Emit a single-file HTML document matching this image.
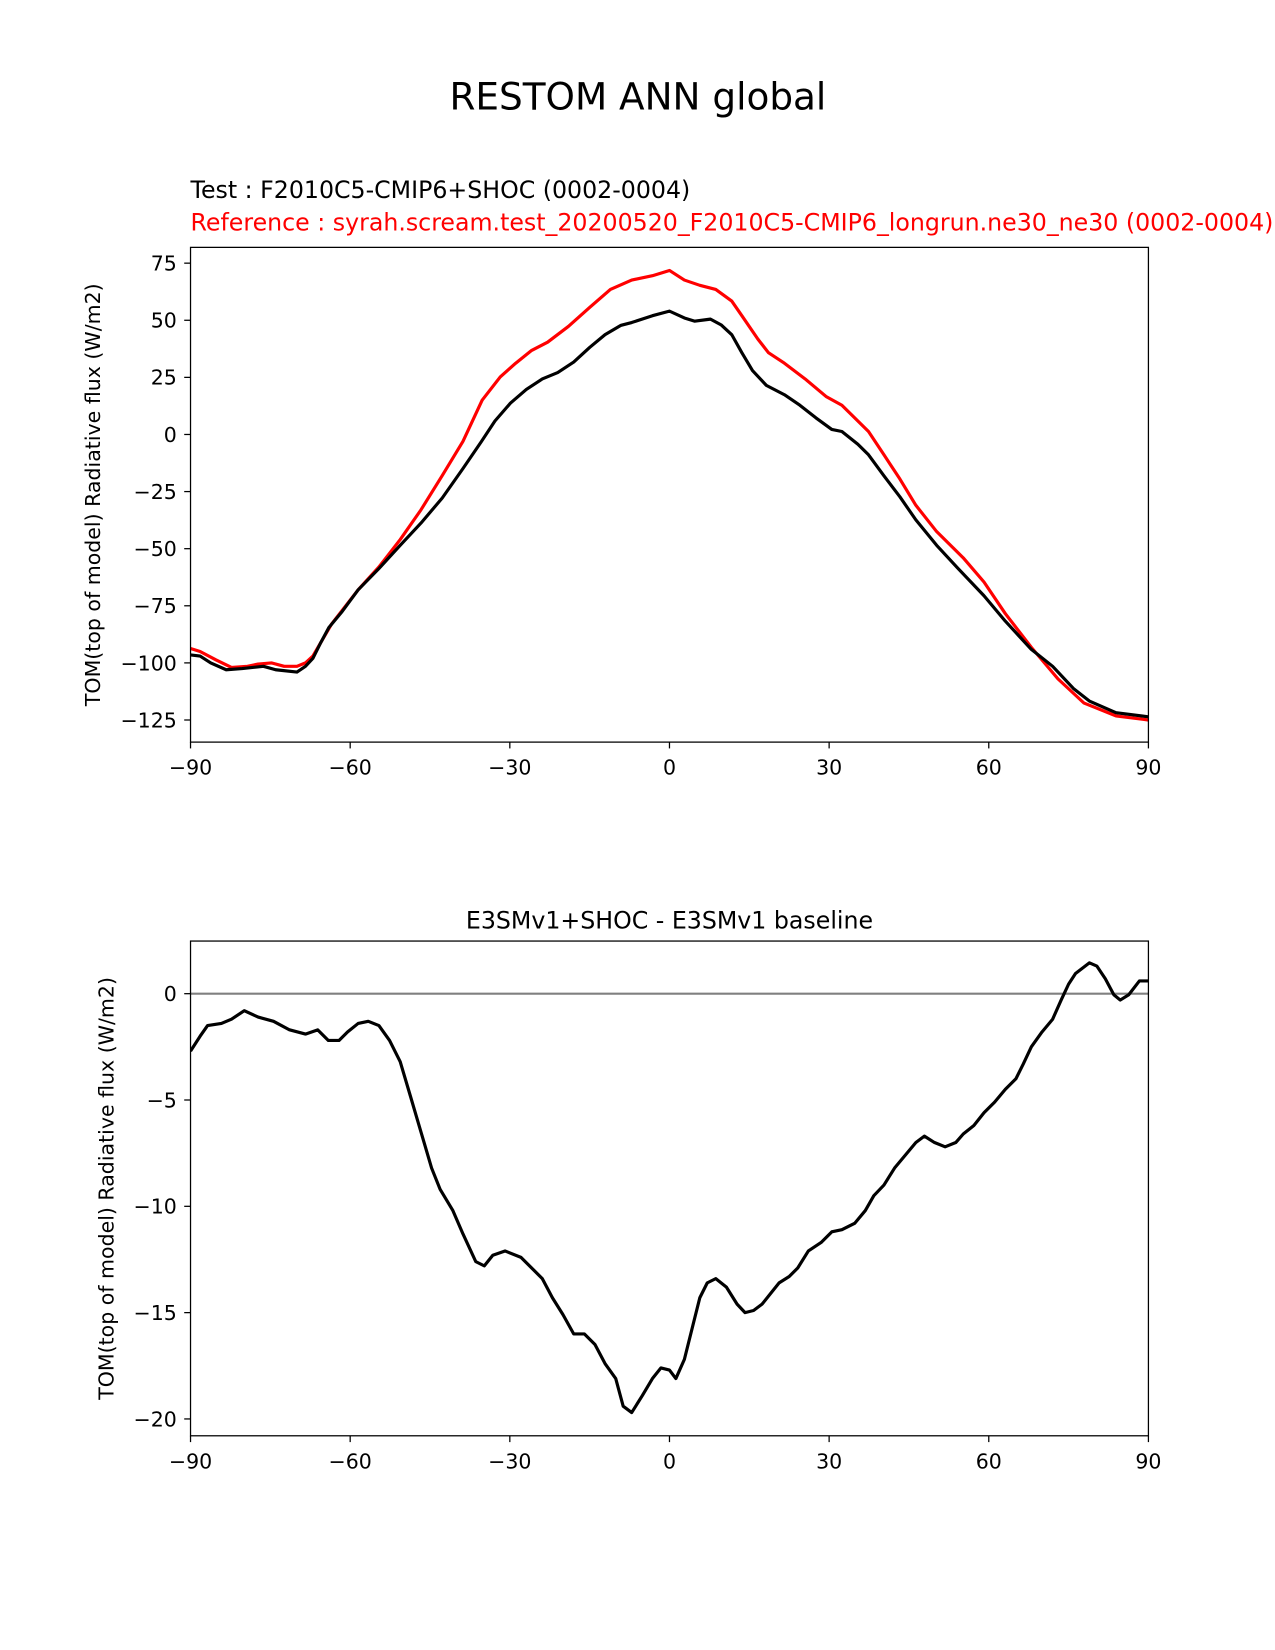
<!DOCTYPE html>
<html><head><meta charset="utf-8"><style>
html,body{margin:0;padding:0;background:#fff;}
svg{display:block;font-family:"DejaVu Sans","Liberation Sans",sans-serif;}
</style></head><body>
<svg id="fig" width="1275" height="1650" viewBox="0 0 1211.25 1567.5" xmlns="http://www.w3.org/2000/svg">
<rect width="1211.25" height="1567.5" fill="#fff"/>
<text x="606" y="104" font-size="35.5" text-anchor="middle">RESTOM ANN global</text>
<text x="181" y="188" font-size="22.5">Test : F2010C5-CMIP6+SHOC (0002-0004)</text>
<text x="181" y="219" font-size="22.5" fill="#ff0000">Reference : syrah.scream.test_20200520_F2010C5-CMIP6_longrun.ne30_ne30 (0002-0004)</text>
<text x="636" y="882" font-size="22.5" text-anchor="middle">E3SMv1+SHOC - E3SMv1 baseline</text>
<g id="top"></g>
<g id="bot"></g>
</svg>
<script>
const topLatBlack=[-90,-88.2,-86.2,-83.3,-80.3,-76.3,-74,-70,-68.4,-67,-65.5,-64,-61.5,-58.5,-54.6,-50.6,-46.7,-42.7,-38.8,-35.4,-32.8,-29.9,-26.9,-23.9,-21,-18,-15,-12.1,-9.1,-7.1,-3.2,0,2.8,4.7,7.7,9.7,11.7,13.6,15.6,18.2,21.6,24.5,27.5,30.5,32.4,35.4,37.4,40.3,43.3,46.3,50.2,54.2,59.1,63.1,68,72,75.9,78.9,83.9,90];
const topValBlack=[-96.5,-97,-100,-103,-102.5,-101.5,-103,-104,-101.5,-98,-91,-84.5,-77.5,-68,-58.7,-48.5,-38.8,-27.8,-14.9,-3.3,5.9,13.7,19.7,24.3,27.1,31.7,38.1,43.7,47.8,49,52,54,51,49.6,50.5,48,43.7,35.8,28,21.5,17.4,12.8,7.3,2.2,1.3,-4.3,-8.9,-18.1,-27.3,-37.4,-48.5,-58.6,-70.6,-81.7,-94.1,-101.5,-111.2,-116.7,-121.8,-123.6];
const topLatRed=[-90,-88.2,-85.2,-82.3,-79.3,-77.3,-74.8,-72.4,-70,-68.4,-67,-65.5,-63.5,-58.5,-54.6,-50.6,-46.7,-42.7,-38.8,-35.2,-31.8,-28.9,-25.9,-22.9,-19,-15,-11.1,-7.1,-3.2,0,2.8,5.7,8.7,11.7,13.6,16.6,18.6,21.6,25.5,29.5,32.4,35.4,37.4,40.3,43.3,46.3,50.2,55.2,59.1,63.1,68,73,77.9,83.9,90];
const topValRed=[-93.7,-95,-98.7,-102,-101.5,-100.5,-100,-101.5,-101.5,-100,-97,-91,-83,-68,-58,-46,-33,-18,-3,15,25.2,31.2,36.8,40.4,47.3,55.6,63.5,67.6,69.5,71.8,67.6,65.3,63.5,58.4,52,41.8,35.8,31.2,24.3,16.5,12.8,5.9,1.3,-8.9,-19.5,-31,-42.5,-54,-64.6,-78.4,-93.2,-107,-117.6,-123.2,-125];
const botLat=[-90,-88.2,-86.8,-84.2,-82.3,-79.9,-77.3,-74.4,-71.4,-68.4,-66.1,-64.1,-62.1,-60.5,-58.5,-56.6,-54.6,-52.6,-50.6,-48.7,-46.7,-44.7,-43.1,-40.7,-38.8,-36.4,-34.8,-33.2,-30.9,-27.9,-25.9,-23.9,-22,-20,-18,-16,-14,-12.1,-10.1,-8.7,-7.1,-5.1,-3.2,-1.6,0,1.2,2.8,4.4,5.7,7.1,8.7,10.7,12.7,14.2,15.8,17.4,19,20.6,22.5,24.1,26.1,28.5,30.5,32.4,34.8,36.8,38.4,40.3,42.3,44.3,46.3,47.9,49.8,51.8,53.8,55.2,57.2,59.1,61.1,63.1,65.1,66.5,68,70,72,73.6,75,76.3,78.9,80.3,81.9,83.5,84.7,86.3,88.3,90];
const botVal=[-2.7,-2.0,-1.5,-1.4,-1.2,-0.8,-1.1,-1.3,-1.7,-1.9,-1.7,-2.2,-2.2,-1.8,-1.4,-1.3,-1.5,-2.2,-3.2,-4.8,-6.5,-8.2,-9.2,-10.2,-11.3,-12.6,-12.8,-12.3,-12.1,-12.4,-12.9,-13.4,-14.3,-15.1,-16.0,-16.0,-16.5,-17.4,-18.1,-19.4,-19.7,-18.9,-18.1,-17.6,-17.7,-18.1,-17.2,-15.6,-14.3,-13.6,-13.4,-13.8,-14.6,-15.0,-14.9,-14.6,-14.1,-13.6,-13.3,-12.9,-12.1,-11.7,-11.2,-11.1,-10.8,-10.2,-9.5,-9.0,-8.2,-7.6,-7.0,-6.7,-7.0,-7.2,-7.0,-6.6,-6.2,-5.6,-5.1,-4.5,-4.0,-3.3,-2.5,-1.8,-1.2,-0.3,0.45,0.95,1.45,1.3,0.7,-0.05,-0.3,-0.05,0.6,0.6];
const xTicks=[-90,-60,-30,0,30,60,90];
const xTickLabels=["\u221290","\u221260","\u221230","0","30","60","90"];
const topYTicks=[75,50,25,0,-25,-50,-75,-100,-125];
const botYTicks=[0,-5,-10,-15,-20];

const NS="http://www.w3.org/2000/svg";
function mk(tag,attrs,parent){const e=document.createElementNS(NS,tag);for(const k in attrs)e.setAttribute(k,attrs[k]);parent.appendChild(e);return e;}
const L=181,R=1091;
const xs=v=>L+(v+90)/180*(R-L);
function lab(v){return v<0?"\u2212"+Math.abs(v):String(v);}

function drawAxes(g,top,bot,ys,yTicks,ylabel,ylabelX){
  for(let i=0;i<xTicks.length;i++){
    const x=xs(xTicks[i]);
    const t=mk('line',{x1:x,x2:x,y1:bot,y2:bot+6,stroke:'#000','stroke-width':1.2},g);
    
    const tx=mk('text',{x:x,y:bot+31,'font-size':19.5,'text-anchor':'middle'},g);
    
    tx.textContent=xTickLabels[i];
  }
  for(const v of yTicks){
    const y=ys(v);
    const t=mk('line',{x1:L-6,x2:L,y1:y,y2:y,stroke:'#000','stroke-width':1.2},g);
    
    const tx=mk('text',{x:L-13,y:y+7,'font-size':19.5,'text-anchor':'end'},g);
    
    tx.textContent=lab(v);
  }
  const yl=mk('text',{x:ylabelX,y:(top+bot)/2,'font-size':19.5,'text-anchor':'middle',transform:`rotate(-90 ${ylabelX} ${(top+bot)/2})`},g);
  
  yl.textContent=ylabel;
}
function line(g,lat,val,ys,color,name,top,bot){
  const cid='clip'+name;
  const cp=mk('clipPath',{id:cid},g);mk('rect',{x:L,y:top-2,width:R-L,height:bot-top+4},cp);
  const d=lat.map((a,i)=>(i?'L':'M')+xs(a).toFixed(2)+' '+ys(val[i]).toFixed(2)).join(' ');
  const p=mk('path',{d:d,fill:'none',stroke:color,'stroke-width':3,'stroke-linejoin':'round','clip-path':`url(#${cid})`},g);
  
}
function frame(g,top,bot){
  const r=mk('rect',{x:L,y:top,width:R-L,height:bot-top,fill:'none',stroke:'#000','stroke-width':1.2},g);
  
}
(function(){
  const g=document.getElementById('top');
  const top=235,bot=705;
  const ys=v=>412.75-v*2.17;
  drawAxes(g,top,bot,ys,topYTicks,"TOM(top of model) Radiative flux (W/m2)",95);
  line(g,topLatRed,topValRed,ys,'#ff0000','reference-line',top,bot);
  line(g,topLatBlack,topValBlack,ys,'#000','test-line',top,bot);
  frame(g,top,bot);
})();
(function(){
  const g=document.getElementById('bot');
  const top=894,bot=1364;
  const ys=v=>944-v*20.2;
  drawAxes(g,top,bot,ys,botYTicks,"TOM(top of model) Radiative flux (W/m2)",108);
  const z=mk('line',{x1:L,x2:R,y1:ys(0),y2:ys(0),stroke:'#808080','stroke-width':2},g);
  
  line(g,botLat,botVal,ys,'#000','difference-line',top,bot);
  frame(g,top,bot);
})();
</script>
</body></html>
